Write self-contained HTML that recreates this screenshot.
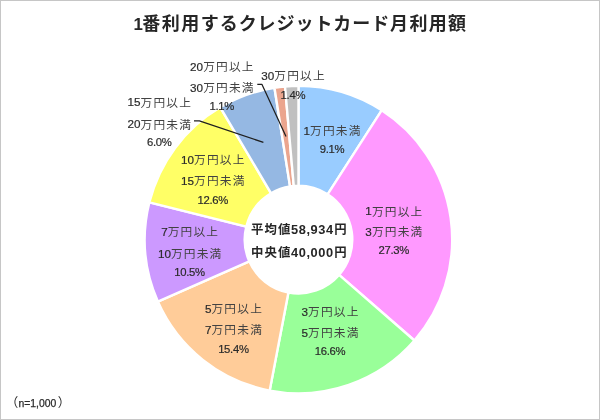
<!DOCTYPE html>
<html lang="ja"><head><meta charset="utf-8"><title>1番利用するクレジットカード月利用額</title>
<style>
html,body{margin:0;padding:0;background:#fff}
body{width:600px;height:420px;overflow:hidden}
svg{display:block}
text{font-family:"Liberation Sans","Noto Sans CJK JP",sans-serif}
.lab text{font-size:12.5px;fill:#424242;text-anchor:middle}
.lab .d{font-size:11.3px;fill:#2b2b2b;stroke:#2b2b2b;stroke-width:.2px}
.lab .p{letter-spacing:-.3px}
.lab .m{font-size:11.7px}
.lab .k{font-size:11.7px;letter-spacing:1.2px}
.ttl{font-size:18px;font-weight:700;fill:#262626;letter-spacing:1.03px}
.ttl .d{font-size:16.9px;letter-spacing:0}
.ttl .kj{letter-spacing:1.5px}
.ttl .kn{letter-spacing:.93px}
.ctr text{font-size:12.4px;font-weight:700;fill:#262626;letter-spacing:1.1px}
.ctr .d{font-size:12.8px;letter-spacing:.6px}
.note{font-size:12.5px;fill:#2b2b2b}
.note .d{font-size:10.4px;stroke:#2b2b2b;stroke-width:.25px}
</style></head><body>
<svg width="600" height="420" viewBox="0 0 600 420">
<rect x="0.5" y="0.5" width="599" height="419" fill="#fff" stroke="#c6c6c6" stroke-width="1"/>
<text class="ttl" x="133.4" y="29.8"><tspan class="d">1</tspan><tspan x="142.3" dy="0.3" class="kj">番利用</tspan><tspan class="kn">するクレジットカード</tspan><tspan class="kj" style="letter-spacing:1.3px">月利用額</tspan></text>
<g stroke="#fff" stroke-width="2.4" stroke-linejoin="round">
<path d="M298.50 85.90A153.7 153.7 0 0 1 381.67 110.35L327.61 194.36A53.8 53.8 0 0 0 298.50 185.80Z" fill="#99CCFF"/>
<path d="M381.67 110.35A153.7 153.7 0 0 1 414.43 340.52L339.08 274.92A53.8 53.8 0 0 0 327.61 194.36Z" fill="#FF99FF"/>
<path d="M414.43 340.52A153.7 153.7 0 0 1 269.70 390.58L288.42 292.45A53.8 53.8 0 0 0 339.08 274.92Z" fill="#99FF99"/>
<path d="M269.70 390.58A153.7 153.7 0 0 1 157.83 301.53L249.26 261.28A53.8 53.8 0 0 0 288.42 292.45Z" fill="#FFCC99"/>
<path d="M157.83 301.53A153.7 153.7 0 0 1 149.39 202.31L246.31 226.55A53.8 53.8 0 0 0 249.26 261.28Z" fill="#CC99FF"/>
<path d="M149.39 202.31A153.7 153.7 0 0 1 220.26 107.30L271.11 193.29A53.8 53.8 0 0 0 246.31 226.55Z" fill="#FFFF66"/>
<path d="M220.26 107.30A153.7 153.7 0 0 1 274.46 87.79L290.08 186.46A53.8 53.8 0 0 0 271.11 193.29Z" fill="#95B8E3"/>
<path d="M274.46 87.79A153.7 153.7 0 0 1 285.00 86.49L293.77 186.01A53.8 53.8 0 0 0 290.08 186.46Z" fill="#EBA58E"/>
<path d="M285.00 86.49A153.7 153.7 0 0 1 298.50 85.90L298.50 185.80A53.8 53.8 0 0 0 293.77 186.01Z" fill="#C0C0C0"/>
</g>
<g fill="none" stroke="#1f1f1f" stroke-width="1.25" stroke-linejoin="round">
<polyline points="194,120.8 199.4,120.8 263.4,142.4"/>
<polyline points="257.3,84.4 262,84.4 286,136.6"/>
</g>
<g class="lab">
<text x="332.6" y="134.8"><tspan class="d m">1</tspan><tspan class="k" dy="0.5">万円未満</tspan></text>
<text x="332.0" y="153.0"><tspan class="d p">9.1%</tspan></text>
<text x="394.4" y="215.1"><tspan class="d m">1</tspan><tspan class="k" dy="0.5">万円以上</tspan></text>
<text x="394.4" y="235.7"><tspan class="d m">3</tspan><tspan class="k" dy="0.5">万円未満</tspan></text>
<text x="393.8" y="254.4"><tspan class="d p">27.3%</tspan></text>
<text x="330.6" y="315.7"><tspan class="d m">3</tspan><tspan class="k" dy="0.5">万円以上</tspan></text>
<text x="330.6" y="336.6"><tspan class="d m">5</tspan><tspan class="k" dy="0.5">万円未満</tspan></text>
<text x="330.0" y="355.1"><tspan class="d p">16.6%</tspan></text>
<text x="234.0" y="312.7"><tspan class="d m">5</tspan><tspan class="k" dy="0.5">万円以上</tspan></text>
<text x="234.0" y="333.9"><tspan class="d m">7</tspan><tspan class="k" dy="0.5">万円未満</tspan></text>
<text x="233.4" y="352.9"><tspan class="d p">15.4%</tspan></text>
<text x="190.2" y="235.9"><tspan class="d m">7</tspan><tspan class="k" dy="0.5">万円以上</tspan></text>
<text x="190.2" y="257.5"><tspan class="d m">10</tspan><tspan class="k" dy="0.5">万円未満</tspan></text>
<text x="189.6" y="276.0"><tspan class="d p">10.5%</tspan></text>
<text x="213.3" y="163.7"><tspan class="d m">10</tspan><tspan class="k" dy="0.5">万円以上</tspan></text>
<text x="213.3" y="184.9"><tspan class="d m">15</tspan><tspan class="k" dy="0.5">万円未満</tspan></text>
<text x="212.7" y="203.6"><tspan class="d p">12.6%</tspan></text>
<text x="159.8" y="106.4"><tspan class="d m">15</tspan><tspan class="k" dy="0.5">万円以上</tspan></text>
<text x="159.8" y="128.2"><tspan class="d m">20</tspan><tspan class="k" dy="0.5">万円未満</tspan></text>
<text x="159.2" y="146.2"><tspan class="d p">6.0%</tspan></text>
<text x="222.4" y="70.5"><tspan class="d m">20</tspan><tspan class="k" dy="0.5">万円以上</tspan></text>
<text x="222.4" y="91.8"><tspan class="d m">30</tspan><tspan class="k" dy="0.5">万円未満</tspan></text>
<text x="221.8" y="110.1"><tspan class="d p">1.1%</tspan></text>
<text x="293.6" y="79.5"><tspan class="d m">30</tspan><tspan class="k" dy="0.5">万円以上</tspan></text>
<text x="292.9" y="98.6"><tspan class="d p">1.4%</tspan></text>
</g>
<g class="ctr">
<text x="251" y="233.7">平均値<tspan class="d" dy="0.3" dx="-0.5">58,934</tspan><tspan dy="-0.3" dx="0.4">円</tspan></text>
<text x="251" y="256.7">中央値<tspan class="d" dy="0.3" dx="-0.5">40,000</tspan><tspan dy="-0.3" dx="0.4">円</tspan></text>
</g>
<text class="note" x="5.7" y="407.3">（<tspan class="d" dx="0.2">n=1,000</tspan><tspan dx="1.5">）</tspan></text>
</svg>
</body></html>
